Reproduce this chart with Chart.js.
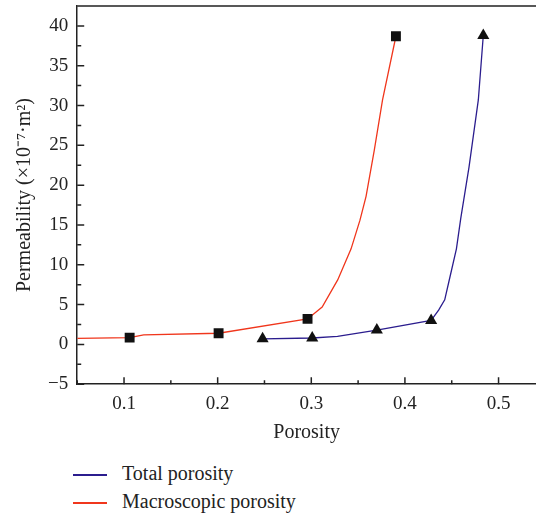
<!DOCTYPE html>
<html>
<head>
<meta charset="utf-8">
<script src="https://cdn.jsdelivr.net/npm/chart.js@4.4.1/dist/chart.umd.min.js"></script>
<style>
  body { margin: 0; background: #fff; }
  #wrap { position: relative; width: 536px; height: 517px; }
  #chart { position: absolute; left: 0; top: 0; }
  .leg { position: absolute; left: 73px; font: 20px "Liberation Serif", serif; color: #222; line-height: 24px; }
  .leg span { display: inline-block; width: 34px; height: 2px; vertical-align: middle; margin-right: 15px; }
</style>
</head>
<body>
<div id="wrap">
  <canvas id="chart" width="536" height="447"></canvas>
  <div id="legend"></div>
</div>
<script>
// series: Total porosity (line path + markers)
var totalLineX = [0.248, 0.301, 0.328, 0.370, 0.428, 0.436, 0.4425, 0.447, 0.455, 0.4596, 0.4685, 0.4784, 0.4837];
var totalLineY = [0.7, 0.8, 1.0, 1.8, 3.0, 4.3, 5.6, 7.9, 12.0, 15.8, 22.3, 30.7, 38.8];
var totalMarkX = [0.248, 0.301, 0.370, 0.428, 0.4837];
var totalMarkY = [0.7, 0.8, 1.8, 3.0, 38.8];

// series: Macroscopic porosity
var macroLineX = [0.05, 0.106, 0.121, 0.201, 0.296, 0.3116, 0.3282, 0.3425, 0.352, 0.3585, 0.3673, 0.3761, 0.3904];
var macroLineY = [0.75, 0.85, 1.2, 1.4, 3.2, 4.7, 8.1, 12.0, 15.6, 18.6, 24.4, 30.7, 38.7];
var macroMarkX = [0.106, 0.201, 0.296, 0.3904];
var macroMarkY = [0.85, 1.4, 3.2, 38.7];

var xTicks = [0.1, 0.2, 0.3, 0.4, 0.5];
var xMinor = [0.05, 0.15, 0.25, 0.35, 0.45];
var yTicks = [-5, 0, 5, 10, 15, 20, 25, 30, 35, 40];
var yMinor = [-2.5, 2.5, 7.5, 12.5, 17.5, 22.5, 27.5, 32.5, 37.5];

var seriesNames = ['Total porosity', 'Macroscopic porosity'];
var seriesColors = ['#2b1d8e', '#f0361c'];

function pts(xs, ys) {
    return xs.map(function (x, i) { return {x: x, y: ys[i]}; });
}

var FONT = '"Liberation Serif", serif';
var INK = '#222';

// top border + inward major/minor ticks
var framePlugin = {
    id: 'frame',
    afterDraw: function (chart) {
        var ctx = chart.ctx, a = chart.chartArea;
        var xs = chart.scales.x, ys = chart.scales.y;
        ctx.save();
        ctx.strokeStyle = INK;
        ctx.lineWidth = 1.5;
        ctx.beginPath();
        ctx.moveTo(a.left, a.top);
        ctx.lineTo(a.right, a.top);
        xTicks.forEach(function (v) { var p = xs.getPixelForValue(v); ctx.moveTo(p, a.bottom); ctx.lineTo(p, a.bottom - 7); });
        xMinor.forEach(function (v) { var p = xs.getPixelForValue(v); ctx.moveTo(p, a.bottom); ctx.lineTo(p, a.bottom - 4); });
        yTicks.forEach(function (v) { var p = ys.getPixelForValue(v); ctx.moveTo(a.left, p); ctx.lineTo(a.left + 7, p); });
        yMinor.forEach(function (v) { var p = ys.getPixelForValue(v); ctx.moveTo(a.left, p); ctx.lineTo(a.left + 4, p); });
        ctx.stroke();
        ctx.restore();
    }
};

new Chart(document.getElementById('chart'), {
    type: 'scatter',
    data: {
        datasets: [
            { data: pts(totalMarkX, totalMarkY), pointStyle: 'triangle', pointRadius: 7, backgroundColor: '#111', borderColor: '#111', borderWidth: 0, showLine: false, order: 0 },
            { data: pts(macroMarkX, macroMarkY), pointStyle: 'rect', pointRadius: 7, backgroundColor: '#111', borderColor: '#111', borderWidth: 0, showLine: false, order: 0 },
            { label: seriesNames[0], data: pts(totalLineX, totalLineY), showLine: true, borderColor: seriesColors[0], borderWidth: 1.3, pointRadius: 0, tension: 0, order: 1 },
            { label: seriesNames[1], data: pts(macroLineX, macroLineY), showLine: true, borderColor: seriesColors[1], borderWidth: 1.3, pointRadius: 0, tension: 0, order: 1 }
        ]
    },
    options: {
        responsive: false,
        animation: false,
        layout: { autoPadding: false, padding: { left: 13, right: 0, top: 6, bottom: 4 } },
        plugins: { legend: { display: false }, tooltip: { enabled: false } },
        scales: {
            x: {
                type: 'linear', min: 0.05, max: 0.54,
                afterBuildTicks: function (s) { s.ticks = xTicks.map(function (v) { return {value: v}; }); },
                afterFit: function (s) { s.paddingLeft = 0; s.paddingRight = 0; },
                ticks: { font: { family: FONT, size: 19 }, color: INK, padding: 8, maxRotation: 0,
                         callback: function (v) { return v.toFixed(1); } },
                grid: { display: false, drawTicks: false },
                border: { display: true, color: INK, width: 1.5 },
                title: { display: true, text: 'Porosity', font: { family: FONT, size: 20, lineHeight: 1 }, color: INK, padding: { top: 0, bottom: 0 } }
            },
            y: {
                type: 'linear', min: -5, max: 42.5,
                afterBuildTicks: function (s) { s.ticks = yTicks.map(function (v) { return {value: v}; }); },
                afterFit: function (s) { s.paddingTop = 0; s.paddingBottom = 0; },
                ticks: { font: { family: FONT, size: 19 }, color: INK, padding: 9,
                         callback: function (v) { return v < 0 ? '\u2212' + Math.abs(v) : String(v); } },
                grid: { display: false, drawTicks: false },
                border: { display: true, color: INK, width: 1.5 },
                title: { display: true, text: 'Permeability (\u00d710\u207b\u2077\u00b7m\u00b2)', font: { family: FONT, size: 20 }, color: INK, padding: { top: 0, bottom: 2 } }
            }
        }
    },
    plugins: [framePlugin]
});

// legend below the plot, stacked like the original
var legend = document.getElementById('legend');
seriesNames.forEach(function (name, i) {
    var d = document.createElement('div');
    d.className = 'leg';
    d.style.top = (461 + i * 28) + 'px';
    d.innerHTML = '<span style="background:' + seriesColors[i] + '"></span>' + name;
    legend.appendChild(d);
});
</script>
</body>
</html>
